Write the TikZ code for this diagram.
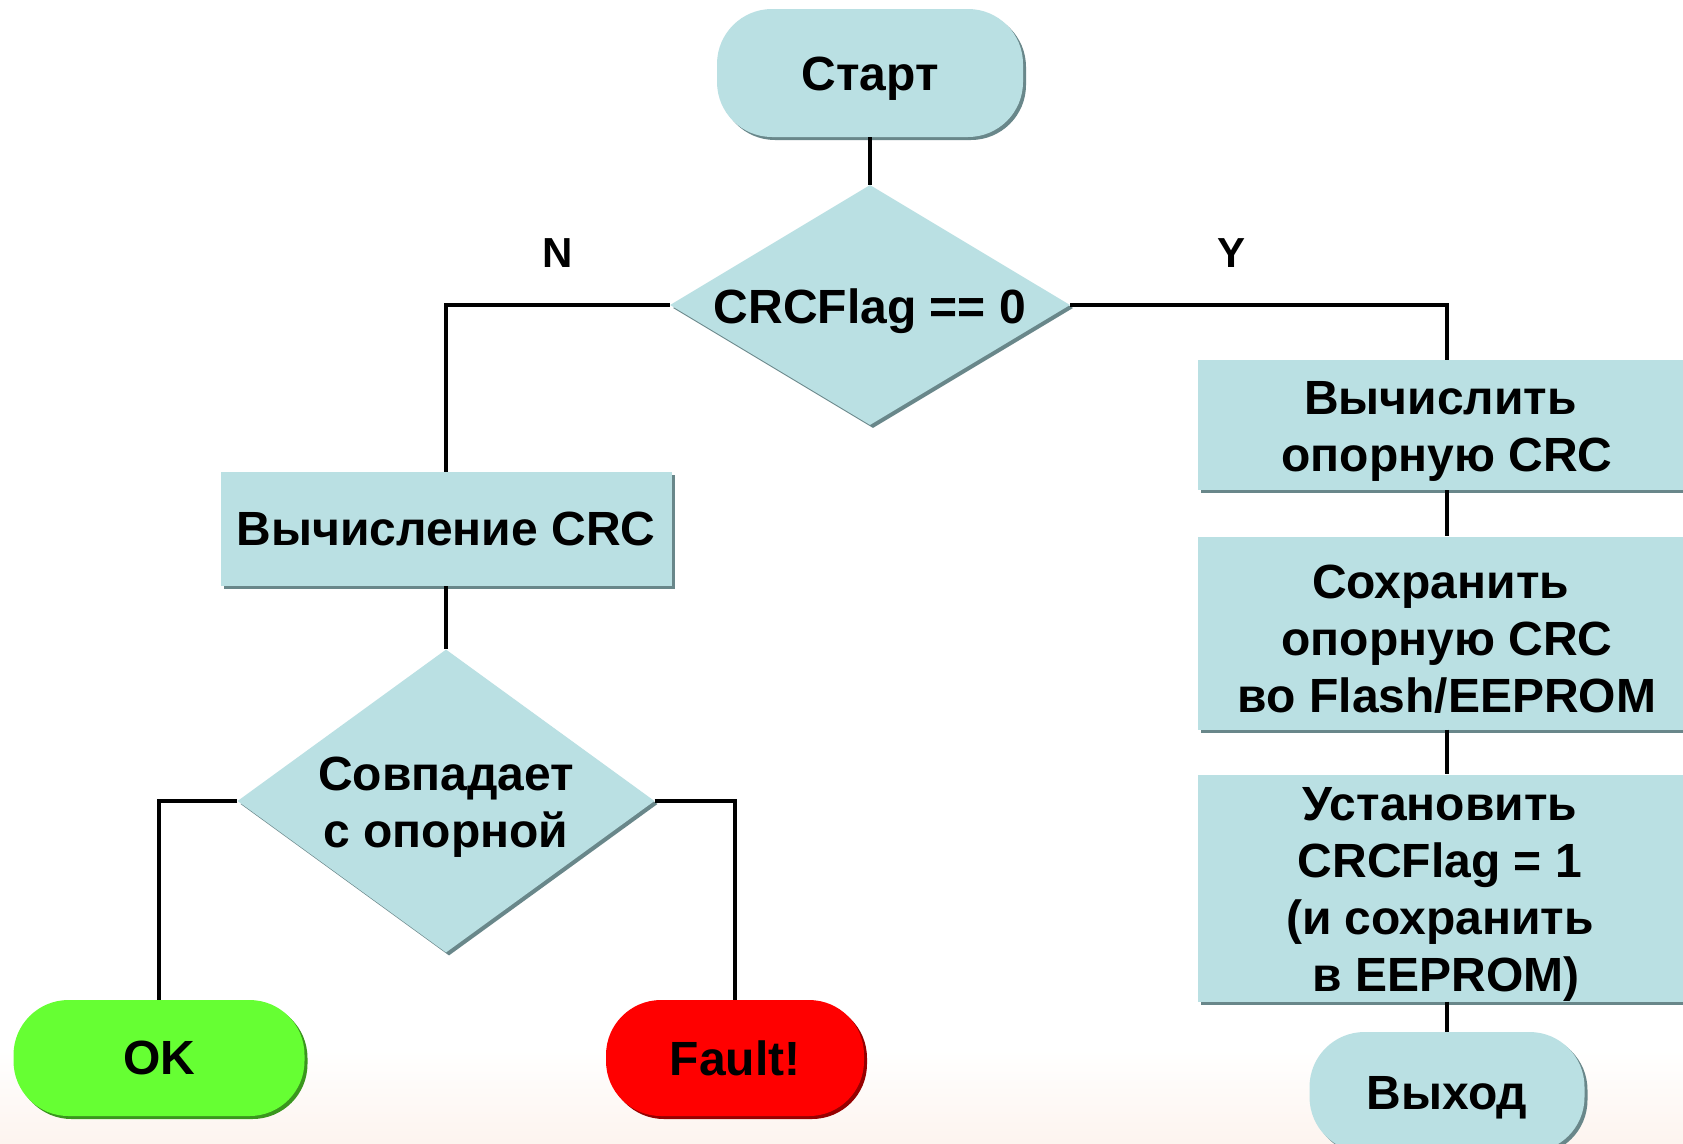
\documentclass[tikz,border=0pt]{standalone}
\usepackage{fontspec}
\setmainfont{Liberation Sans}
\usetikzlibrary{shapes.geometric,shadows}
\definecolor{fillc}{RGB}{186,224,227}
\definecolor{shc}{RGB}{105,135,138}
\definecolor{okc}{RGB}{102,255,51}
\definecolor{okshc}{RGB}{58,150,30}
\definecolor{fc}{RGB}{255,0,0}
\definecolor{fshc}{RGB}{150,0,0}
\definecolor{bgbot}{RGB}{253,244,239}
\begin{document}
\begin{tikzpicture}[x=1pt,y=-1pt,
  txt/.style={font=\fontsize{48}{57}\selectfont\bfseries, align=center, text=black},
  intext/.style={label={[txt, yshift=-6pt]center:{#1}}},
  intextl/.style={label={[txt, yshift=-6pt, xshift=-7pt]center:{#1}}},
  blockshadow/.style={general shadow={fill=#1, shadow xshift=3pt, shadow yshift=-3pt}},
  procbox/.style={rectangle, fill=fillc, blockshadow=shc, inner sep=0pt, minimum width=498pt},
  term/.style={rectangle, rounded corners=55pt, inner sep=0pt},
  decis/.style={diamond, fill=fillc, blockshadow=shc, inner sep=0pt},
  conn/.style={line width=4.3pt, black},
  branchlbl/.style={font=\fontsize{42}{50}\selectfont\bfseries}
]
\useasboundingbox (0,0) rectangle (1683,1143);
\clip (0,0) rectangle (1683,1143);
\fill[white] (0,0) rectangle (1683,1143);
\shade[top color=white, bottom color=bgbot] (0,1050) rectangle (1683,1143);

% nodes
\node[term, fill=fillc, blockshadow=shc, minimum width=306pt, minimum height=128pt,
      intext=Старт] (start) at (870,73) {};
\node[decis, minimum width=400pt, minimum height=240pt,
      intext={CRCFlag == 0}] (d1) at (870,305) {};
\node[procbox, minimum width=451pt, minimum height=114pt] (calc) at (446,529)
      {\fontsize{48}{57}\selectfont\bfseries Вычисление CRC};
\node[decis, minimum width=417pt, minimum height=303pt,
      intext={Совпадает\\с опорной}] (d2) at (446,801) {};
\node[term, fill=okc, blockshadow=okshc, minimum width=291pt, minimum height=116pt,
      label={[txt]center:OK}] (ok) at (159,1058) {};
\node[term, fill=fc, blockshadow=fshc, minimum width=258pt, minimum height=116pt,
      label={[txt]center:Fault!}] (fault) at (735,1058) {};
\node[procbox, minimum height=130pt,
      intext={Вычислить\hspace*{13pt}\\опорную CRC}] (r1) at (1447,425) {};
\node[procbox, minimum height=193pt,
      intext={Сохранить\hspace*{13pt}\\опорную CRC\\во Flash/EEPROM}] (r2) at (1447,633) {};
\node[procbox, minimum height=227pt,
      intextl={Установить\\CRCFlag = 1\\(и сохранить\\\hspace*{12pt}в EEPROM)}] (r3) at (1447,888) {};
\node[term, fill=fillc, blockshadow=shc, minimum width=275pt, minimum height=120pt,
      intext=Выход] (exit) at (1447,1092) {};

\node[branchlbl] (nlbl) at (558,253) {N};
\node[branchlbl] (ylbl) at (1231,253) {Y};

% connectors
\draw[conn] (start.south) -- (d1.north);
\draw[conn] (d1.west) -| (calc.north);
\draw[conn] (d1.east) -| (r1.north);
\draw[conn] (calc.south) -- (d2.north);
\draw[conn] (d2.west) -| (ok.north);
\draw[conn] (d2.east) -| (fault.north);
\draw[conn] (r1.south) -- (r2.north);
\draw[conn] (r2.south) -- (r3.north);
\draw[conn] (r3.south) -- (exit.north);
\end{tikzpicture}
\end{document}
